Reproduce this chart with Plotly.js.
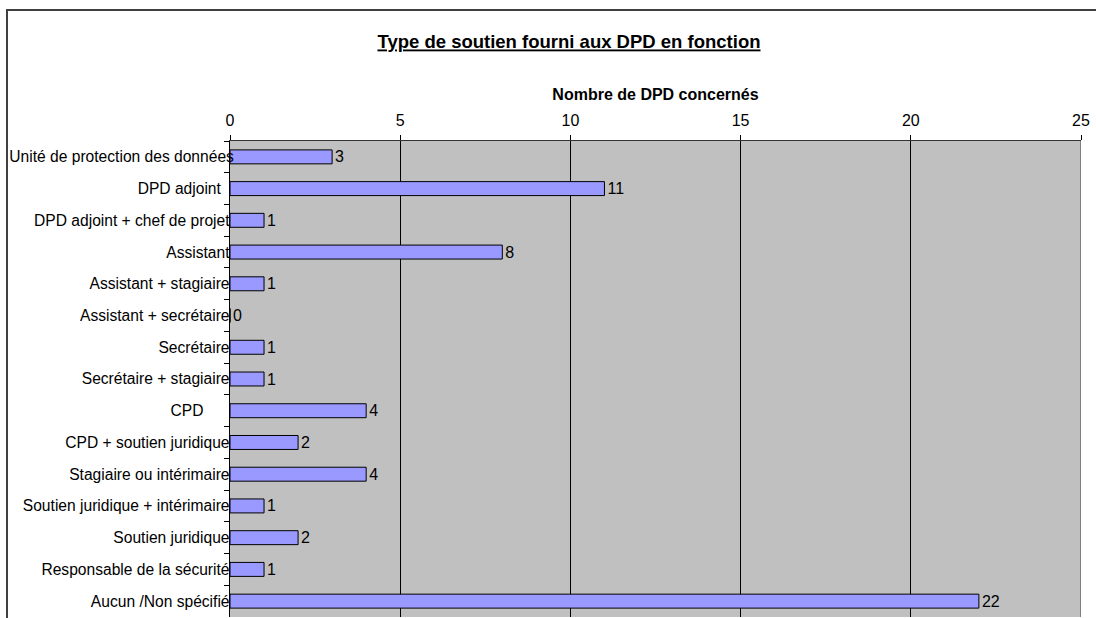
<!DOCTYPE html>
<html>
<head>
<meta charset="utf-8">
<script src="https://cdn.plot.ly/plotly-3.0.1.min.js"></script>
<style>
html,body{margin:0;padding:0;background:#fff;}
#chart{width:1096px;height:618px;position:relative;}
#frame{position:absolute;left:6px;top:9px;width:1100px;height:700px;border-left:2px solid #404040;border-top:2px solid #404040;pointer-events:none;}
</style>
</head>
<body>
<div id="chart"></div>
<div id="frame"></div>
<script>
const NB = "\u00A0";
const categories = [
  "Unité de protection des données",
  "DPD adjoint" + NB.repeat(3),
  "DPD adjoint + chef de projet" + NB,
  "Assistant" + NB,
  "Assistant + stagiaire" + NB,
  "Assistant + secrétaire" + NB,
  "Secrétaire" + NB,
  "Secrétaire + stagiaire" + NB,
  "CPD" + NB.repeat(7),
  "CPD + soutien juridique" + NB,
  "Stagiaire ou intérimaire" + NB,
  "Soutien juridique + intérimaire" + NB,
  "Soutien juridique" + NB,
  "Responsable de la sécurité" + NB,
  "Aucun /Non spécifié" + NB
];
const values = [3, 11, 1, 8, 1, 0, 1, 1, 4, 2, 4, 1, 2, 1, 22];
const xTicks = [0, 5, 10, 15, 20, 25];
const chartTitle = "Type de soutien fourni aux DPD en fonction";
const xTitle = "Nombre de DPD concernés";

const font = "Arial, 'Liberation Sans', sans-serif";

const trace = {
  type: 'bar',
  orientation: 'h',
  y: categories,
  x: values,
  text: values.map(String),
  textposition: 'outside',
  constraintext: 'none',
  cliponaxis: false,
  textfont: {family: font, size: 16, color: '#000'},
  marker: {color: '#9999FF', line: {color: '#000', width: 1}},
  hoverinfo: 'none'
};

const layout = {
  width: 1096,
  height: 618,
  margin: {l: 230, r: 15, t: 141, b: 1, pad: 0},
  paper_bgcolor: '#ffffff',
  plot_bgcolor: '#C0C0C0',
  showlegend: false,
  bargap: 0.56,
  font: {family: font, size: 16, color: '#000'},
  title: {
    text: '<b><u>' + chartTitle + '</u></b>',
    font: {family: font, size: 18.5, color: '#000'},
    x: 569/1096, xanchor: 'center', xref: 'container',
    y: 1 - 42/618, yanchor: 'middle', yref: 'container'
  },
  xaxis: {
    side: 'top',
    range: [0, 25],
    tickvals: xTicks,
    ticktext: xTicks.map(String),
    ticks: 'outside',
    ticklen: 5,
    tickcolor: '#000',
    ticklabelstandoff: 3,
    showline: true,
    linecolor: '#333',
    linewidth: 1,
    showgrid: true,
    gridcolor: '#000',
    gridwidth: 1,
    zeroline: false,
    automargin: false,
    tickfont: {family: font, size: 16, color: '#000'},
    title: {text: '<b>' + xTitle + '</b>', font: {family: font, size: 16, color: '#000'}, standoff: 6}
  },
  yaxis: {
    type: 'category',
    autorange: 'reversed',
    tickson: 'boundaries',
    ticks: 'outside',
    ticklen: 5,
    tickcolor: '#000',
    showline: true,
    linecolor: '#000',
    linewidth: 1,
    showgrid: false,
    zeroline: false,
    automargin: false,
    ticklabelstandoff: -8,
    tickfont: {family: font, size: 15.6, color: '#000'}
  },
  shapes: [
    {type: 'line', xref: 'x', yref: 'paper', x0: 25, x1: 25, y0: 0, y1: 1, line: {color: '#808080', width: 2}, layer: 'above'}
  ]
};

Plotly.newPlot('chart', [trace], layout, {displayModeBar: false, staticPlot: true});
</script>
</body>
</html>
